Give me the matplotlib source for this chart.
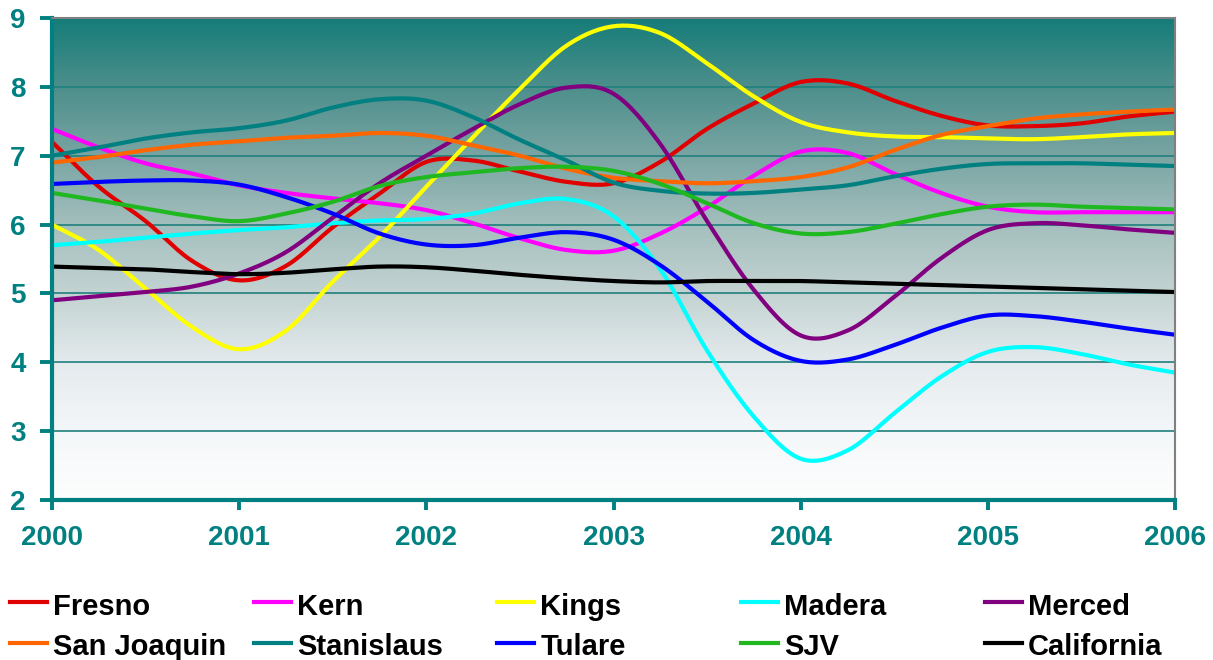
import numpy as np
import matplotlib
matplotlib.use('Agg')
import matplotlib.pyplot as plt
from matplotlib.colors import LinearSegmentedColormap
from matplotlib.lines import Line2D

plt.rcParams['font.family'] = ['Liberation Sans', 'DejaVu Sans']
plt.rcParams['font.weight'] = 'bold'

# quarterly readings, 2000 .. 2006
years = np.arange(2000, 2006.01, 0.25)

fresno = [7.20, 6.55, 6.05, 5.47, 5.19, 5.40, 5.96, 6.45, 6.91, 6.93, 6.77, 6.62, 6.60,
          6.91, 7.39, 7.76, 8.07, 8.05, 7.80, 7.58, 7.44, 7.43, 7.47, 7.57, 7.64]
kern = [7.39, 7.12, 6.89, 6.74, 6.57, 6.46, 6.38, 6.31, 6.21, 6.02, 5.80, 5.63, 5.62,
        5.87, 6.25, 6.71, 7.06, 7.04, 6.74, 6.46, 6.26, 6.18, 6.18, 6.18, 6.18]
kings = [6.00, 5.63, 5.07, 4.51, 4.19, 4.46, 5.17, 5.82, 6.55, 7.27, 7.97, 8.60, 8.88,
         8.78, 8.34, 7.86, 7.49, 7.34, 7.28, 7.27, 7.25, 7.24, 7.27, 7.31, 7.33]
madera = [5.70, 5.75, 5.81, 5.87, 5.92, 5.96, 6.02, 6.06, 6.08, 6.16, 6.31, 6.37, 6.12,
          5.35, 4.17, 3.21, 2.60, 2.72, 3.26, 3.79, 4.15, 4.22, 4.12, 3.97, 3.85]
merced = [4.90, 4.96, 5.02, 5.10, 5.29, 5.60, 6.10, 6.60, 7.00, 7.39, 7.75, 7.99, 7.90,
          7.17, 6.05, 5.05, 4.39, 4.46, 4.95, 5.51, 5.92, 6.02, 5.99, 5.93, 5.88]
san_joaquin = [6.90, 6.98, 7.08, 7.16, 7.21, 7.26, 7.29, 7.33, 7.29, 7.15, 7.00, 6.81, 6.68,
               6.63, 6.60, 6.63, 6.69, 6.83, 7.08, 7.30, 7.43, 7.54, 7.60, 7.64, 7.67]
stanislaus = [7.00, 7.12, 7.25, 7.34, 7.40, 7.51, 7.70, 7.82, 7.80, 7.56, 7.23, 6.93, 6.61,
              6.49, 6.45, 6.46, 6.51, 6.57, 6.70, 6.81, 6.88, 6.89, 6.89, 6.87, 6.85]
tulare = [6.59, 6.62, 6.64, 6.64, 6.58, 6.40, 6.16, 5.87, 5.71, 5.70, 5.81, 5.89, 5.78,
          5.41, 4.88, 4.32, 4.02, 4.04, 4.25, 4.50, 4.68, 4.67, 4.59, 4.49, 4.40]
sjv = [6.46, 6.35, 6.23, 6.12, 6.05, 6.16, 6.33, 6.56, 6.69, 6.76, 6.82, 6.84, 6.78,
       6.59, 6.31, 6.02, 5.87, 5.89, 6.01, 6.15, 6.26, 6.29, 6.26, 6.24, 6.22]
california = [5.39, 5.37, 5.35, 5.31, 5.28, 5.30, 5.35, 5.39, 5.38, 5.33, 5.27, 5.22, 5.18,
              5.16, 5.18, 5.18, 5.18, 5.16, 5.14, 5.12, 5.10, 5.08, 5.06, 5.04, 5.02]

names = ['Fresno', 'Kern', 'Kings', 'Madera', 'Merced',
         'San Joaquin', 'Stanislaus', 'Tulare', 'SJV', 'California']
series = [fresno, kern, kings, madera, merced,
          san_joaquin, stanislaus, tulare, sjv, california]
colors = ['#e00000', '#ff00ff', '#ffff00', '#00ffff', '#800080',
          '#ff6600', '#008080', '#0000ff', '#20b820', '#000000']

teal = '#008080'


def smooth(x, y, n=16):
    # Catmull-Rom through the points, like Excel's smoothed line
    p = np.column_stack([x, y]).astype(float)
    p = np.vstack([2 * p[0] - p[1], p, 2 * p[-1] - p[-2]])
    t = np.linspace(0, 1, n, endpoint=False)[:, None]
    out = []
    for i in range(1, len(p) - 2):
        p0, p1, p2, p3 = p[i - 1], p[i], p[i + 1], p[i + 2]
        seg = 0.5 * ((2 * p1) + (-p0 + p2) * t +
                     (2 * p0 - 5 * p1 + 4 * p2 - p3) * t ** 2 +
                     (-p0 + 3 * p1 - 3 * p2 + p3) * t ** 3)
        out.append(seg)
    out.append(p[-2][None, :])
    out = np.vstack(out)
    return out[:, 0], out[:, 1]


fig = plt.figure(figsize=(12.13, 6.6), dpi=100)
ax = fig.add_axes([52 / 1213, 1 - 500 / 660, 1123 / 1213, 482 / 660])

# gradient background, teal at top fading to white
grad_cmap = LinearSegmentedColormap.from_list('bg', [
    (0.0, '#167d79'), (1 / 7, '#4d8f8c'), (2 / 7, '#79a5a3'), (3 / 7, '#a3bfbd'),
    (4 / 7, '#c3d3d2'), (5 / 7, '#e4eaed'), (6 / 7, '#f4f7f9'), (1.0, '#fdfefe')])
ax.imshow(np.linspace(0, 1, 256)[:, None], cmap=grad_cmap, aspect='auto',
          extent=[2000, 2006, 2, 9], zorder=0)

for v in range(3, 9):
    ax.axhline(v, color='#1f807c', lw=1.2, zorder=1)

for name, vals, c in zip(names, series, colors):
    xs, ys = smooth(years, vals)
    ax.plot(xs, ys, color=c, lw=3, solid_capstyle='butt', zorder=3)

ax.set_xlim(2000, 2006)
ax.set_ylim(2, 9)
ax.set_xticks(range(2000, 2007))
ax.set_yticks(range(2, 10))

ax.spines['top'].set_color('#808080')
ax.spines['right'].set_color('#808080')
ax.spines['top'].set_linewidth(1.5)
ax.spines['right'].set_linewidth(1.5)
ax.spines['left'].set_color(teal)
ax.spines['bottom'].set_color(teal)
ax.spines['left'].set_linewidth(3)
ax.spines['bottom'].set_linewidth(3)
for s in ax.spines.values():
    s.set_zorder(4)

ax.tick_params(axis='y', direction='out', length=9, width=2.8, color=teal,
               pad=10, labelsize=20, labelcolor=teal)
ax.tick_params(axis='x', direction='out', length=7, width=2.8, color=teal,
               pad=11, labelsize=20, labelcolor=teal)

# legend drawn by hand: 5 columns, 2 rows
col_w = 243.7
for i, (name, c) in enumerate(zip(names, colors)):
    col, row = i % 5, i // 5
    x0 = 10 + col * col_w
    yl = 602 + row * 41
    yt = 615 + row * 40
    fig.add_artist(Line2D([x0 / 1213, (x0 + 37) / 1213],
                          [1 - yl / 660, 1 - yl / 660], color=c, lw=3,
                          transform=fig.transFigure))
    fig.text((x0 + 43) / 1213, 1 - yt / 660, name, fontsize=21,
             fontweight='bold', color='black', va='baseline', ha='left')

fig.savefig('out.png', dpi=100)
